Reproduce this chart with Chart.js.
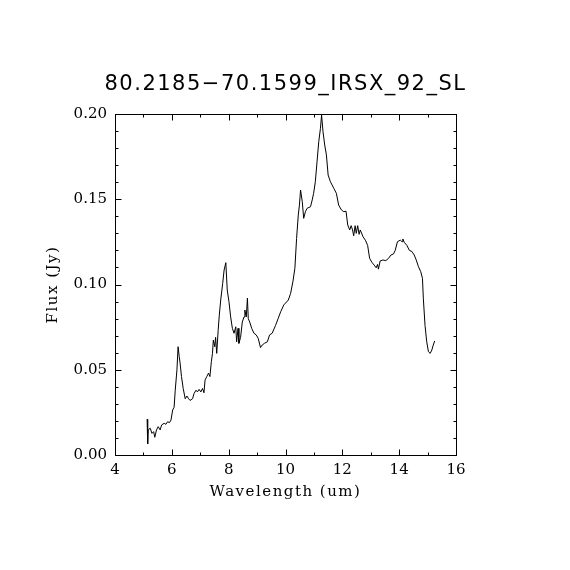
<!DOCTYPE html>
<html>
<head>
<meta charset="utf-8">
<script src="https://cdn.jsdelivr.net/npm/chart.js@4.4.1/dist/chart.umd.min.js"></script>
<style>
  html, body { margin: 0; padding: 0; background: #fff; }
  #wrap { width: 570px; height: 570px; }
</style>
</head>
<body>
<div id="wrap"><canvas id="spectrum"></canvas></div>
<script>
const titleText = '80.2185\u221270.1599_IRSX_92_SL';
const xLabel = 'Wavelength (um)';
const yLabel = 'Flux (Jy)';

// spectrum (um, Jy)
const wavelength = [
  5.13, 5.15, 5.17, 5.24, 5.30, 5.36, 5.40, 5.46, 5.52, 5.59,
  5.64, 5.73, 5.79, 5.85, 5.92, 5.97, 6.03, 6.08, 6.12, 6.18,
  6.22, 6.26, 6.29, 6.34, 6.40, 6.47, 6.53, 6.59, 6.64, 6.73,
  6.78, 6.85, 6.90, 6.96, 7.02, 7.08, 7.13, 7.17, 7.23, 7.29,
  7.34, 7.39, 7.43, 7.46, 7.51, 7.54, 7.58, 7.63, 7.67, 7.72,
  7.79, 7.84, 7.90, 7.95, 8.01, 8.07, 8.13, 8.19, 8.25, 8.28,
  8.33, 8.36, 8.42, 8.48, 8.54, 8.57, 8.62, 8.66, 8.69, 8.74,
  8.81, 8.89, 8.97, 9.04, 9.12, 9.18, 9.26, 9.36, 9.44, 9.53,
  9.65, 9.74, 9.83, 9.94, 10.10, 10.18, 10.26, 10.33, 10.39, 10.45,
  10.49, 10.53, 10.59, 10.64, 10.70, 10.76, 10.88, 10.94, 10.99, 11.05,
  11.11, 11.17, 11.23, 11.27, 11.32, 11.38, 11.44, 11.50, 11.58, 11.70,
  11.79, 11.87, 11.97, 12.05, 12.13, 12.19, 12.26, 12.31, 12.36, 12.40,
  12.45, 12.49, 12.54, 12.59, 12.63, 12.73, 12.81, 12.89, 12.96, 13.04,
  13.12, 13.19, 13.24, 13.27, 13.33, 13.43, 13.53, 13.63, 13.71, 13.80,
  13.86, 13.94, 14.04, 14.10, 14.13, 14.18, 14.27, 14.36, 14.45, 14.53,
  14.60, 14.68, 14.76, 14.82, 14.85, 14.91, 14.97, 15.03, 15.09, 15.15,
  15.20, 15.25
];
const flux = [
  0.021, 0.0065, 0.0147, 0.0157, 0.0127, 0.0137, 0.0104, 0.0147, 0.0166, 0.0147,
  0.0176, 0.0186, 0.018, 0.0195, 0.019, 0.0205, 0.0264, 0.028, 0.038, 0.05,
  0.0635, 0.0577, 0.054, 0.046, 0.039, 0.033, 0.0346, 0.033, 0.032, 0.033,
  0.036, 0.038, 0.037, 0.0385, 0.037, 0.039, 0.0365, 0.044, 0.046, 0.048,
  0.046, 0.0547, 0.0596, 0.0674, 0.0635, 0.069, 0.0596, 0.073, 0.082, 0.0909,
  0.1007, 0.1085, 0.1128, 0.0968, 0.09, 0.081, 0.0743, 0.0714, 0.0752, 0.0664,
  0.0743, 0.0655, 0.069, 0.078, 0.081, 0.085, 0.081, 0.092, 0.080, 0.078,
  0.0743, 0.0714, 0.0704, 0.0684, 0.063, 0.0645, 0.0655, 0.0664, 0.0704, 0.0714,
  0.076, 0.080, 0.084, 0.088, 0.0909, 0.0948, 0.1016, 0.1095, 0.127, 0.1408,
  0.1466, 0.1554, 0.1486, 0.1388, 0.1427, 0.1447, 0.1456, 0.1496, 0.1535, 0.1603,
  0.172, 0.1837, 0.1916, 0.1994, 0.1896, 0.1818, 0.176, 0.1642, 0.1603, 0.1564,
  0.1535, 0.1466, 0.1437, 0.1427, 0.143, 0.1349, 0.132, 0.1345, 0.132, 0.1286,
  0.1345, 0.130, 0.1345, 0.1294, 0.132, 0.128, 0.126, 0.123, 0.1154, 0.113,
  0.1114, 0.1098, 0.1118, 0.109, 0.1138, 0.1144, 0.114, 0.1154, 0.1173, 0.1179,
  0.120, 0.1251, 0.126, 0.1251, 0.1267, 0.1247, 0.123, 0.120, 0.1193, 0.1173,
  0.1144, 0.1104, 0.1075, 0.1036, 0.092, 0.076, 0.0664, 0.0606, 0.0596, 0.0616,
  0.0645, 0.0669
];

const xTicks = [4, 6, 8, 10, 12, 14, 16];
const xTickLabels = ['4', '6', '8', '10', '12', '14', '16'];
const xMinor = [5, 7, 9, 11, 13, 15];
const yTicks = [0, 0.05, 0.10, 0.15, 0.20];
const yTickLabels = ['0.00', '0.05', '0.10', '0.15', '0.20'];
const yMinor = [0.01, 0.02, 0.03, 0.04, 0.06, 0.07, 0.08, 0.09,
                0.11, 0.12, 0.13, 0.14, 0.16, 0.17, 0.18, 0.19];

const tickFont = { family: 'DejaVu Serif', size: 15 };

// box with inward ticks on all four sides, plus the three labels
const framePlugin = {
  id: 'frame',
  afterDatasetsDraw(chart) {
    const { ctx, chartArea: a, scales: { x, y } } = chart;
    const px = v => Math.round(x.getPixelForValue(v)) + 0.5;
    const py = v => Math.round(y.getPixelForValue(v)) + 0.5;
    const L = Math.round(a.left) + 0.5, R = Math.round(a.right) + 0.5;
    const T = Math.round(a.top) + 0.5, B = Math.round(a.bottom) + 0.5;
    ctx.save();
    ctx.strokeStyle = '#000';
    ctx.lineWidth = 1;
    ctx.strokeRect(L, T, R - L, B - T);
    ctx.beginPath();
    const xt = (v, len) => {
      const p = px(v);
      ctx.moveTo(p, B); ctx.lineTo(p, B - len);
      ctx.moveTo(p, T); ctx.lineTo(p, T + len);
    };
    const yt = (v, len) => {
      const p = py(v);
      ctx.moveTo(L, p); ctx.lineTo(L + len, p);
      ctx.moveTo(R, p); ctx.lineTo(R - len, p);
    };
    x.ticks.forEach(t => xt(t.value, 6));
    xMinor.forEach(v => xt(v, 3));
    y.ticks.forEach(t => yt(t.value, 6));
    yMinor.forEach(v => yt(v, 3));
    ctx.stroke();
    ctx.restore();
  },
  afterDraw(chart) {
    const { ctx, chartArea: a } = chart;
    const cx = (a.left + a.right) / 2;
    ctx.save();
    ctx.fillStyle = '#000';
    ctx.textAlign = 'center';
    ctx.textBaseline = 'alphabetic';

    ctx.font = '21px "DejaVu Sans"';
    ctx.letterSpacing = '1.5px';
    ctx.fillText(titleText, cx, 90);

    ctx.font = '15px "DejaVu Serif"';
    ctx.letterSpacing = '1.5px';
    ctx.fillText(xLabel, cx, 496);

    ctx.translate(57, (a.top + a.bottom) / 2);
    ctx.rotate(-Math.PI / 2);
    ctx.fillText(yLabel, 0, 0);
    ctx.restore();
  }
};

new Chart(document.getElementById('spectrum'), {
  type: 'line',
  data: {
    datasets: [{
      data: wavelength.map((w, i) => ({ x: w, y: flux[i] })),
      borderColor: '#000',
      borderWidth: 1,
      pointRadius: 0,
      tension: 0,
      fill: false
    }]
  },
  options: {
    responsive: true,
    maintainAspectRatio: false,
    animation: false,
    layout: { padding: { top: 114, right: 114, left: 0, bottom: 0 } },
    plugins: {
      legend: { display: false },
      tooltip: { enabled: false }
    },
    scales: {
      x: {
        type: 'linear',
        min: 4,
        max: 16,
        grid: { display: false, drawTicks: false },
        border: { display: false },
        afterBuildTicks: s => { s.ticks = xTicks.map(v => ({ value: v })); },
        afterFit: s => { s.height = 115; },
        ticks: {
          color: '#000',
          font: tickFont,
          padding: 6,
          maxRotation: 0,
          autoSkip: false,
          callback: (v, i) => xTickLabels[i]
        }
      },
      y: {
        type: 'linear',
        min: 0,
        max: 0.2,
        grid: { display: false, drawTicks: false },
        border: { display: false },
        afterBuildTicks: s => { s.ticks = yTicks.map(v => ({ value: v })); },
        afterFit: s => { s.width = 115; },
        ticks: {
          color: '#000',
          font: tickFont,
          padding: 8,
          autoSkip: false,
          callback: (v, i) => yTickLabels[i]
        }
      }
    }
  },
  plugins: [framePlugin]
});
</script>
</body>
</html>
